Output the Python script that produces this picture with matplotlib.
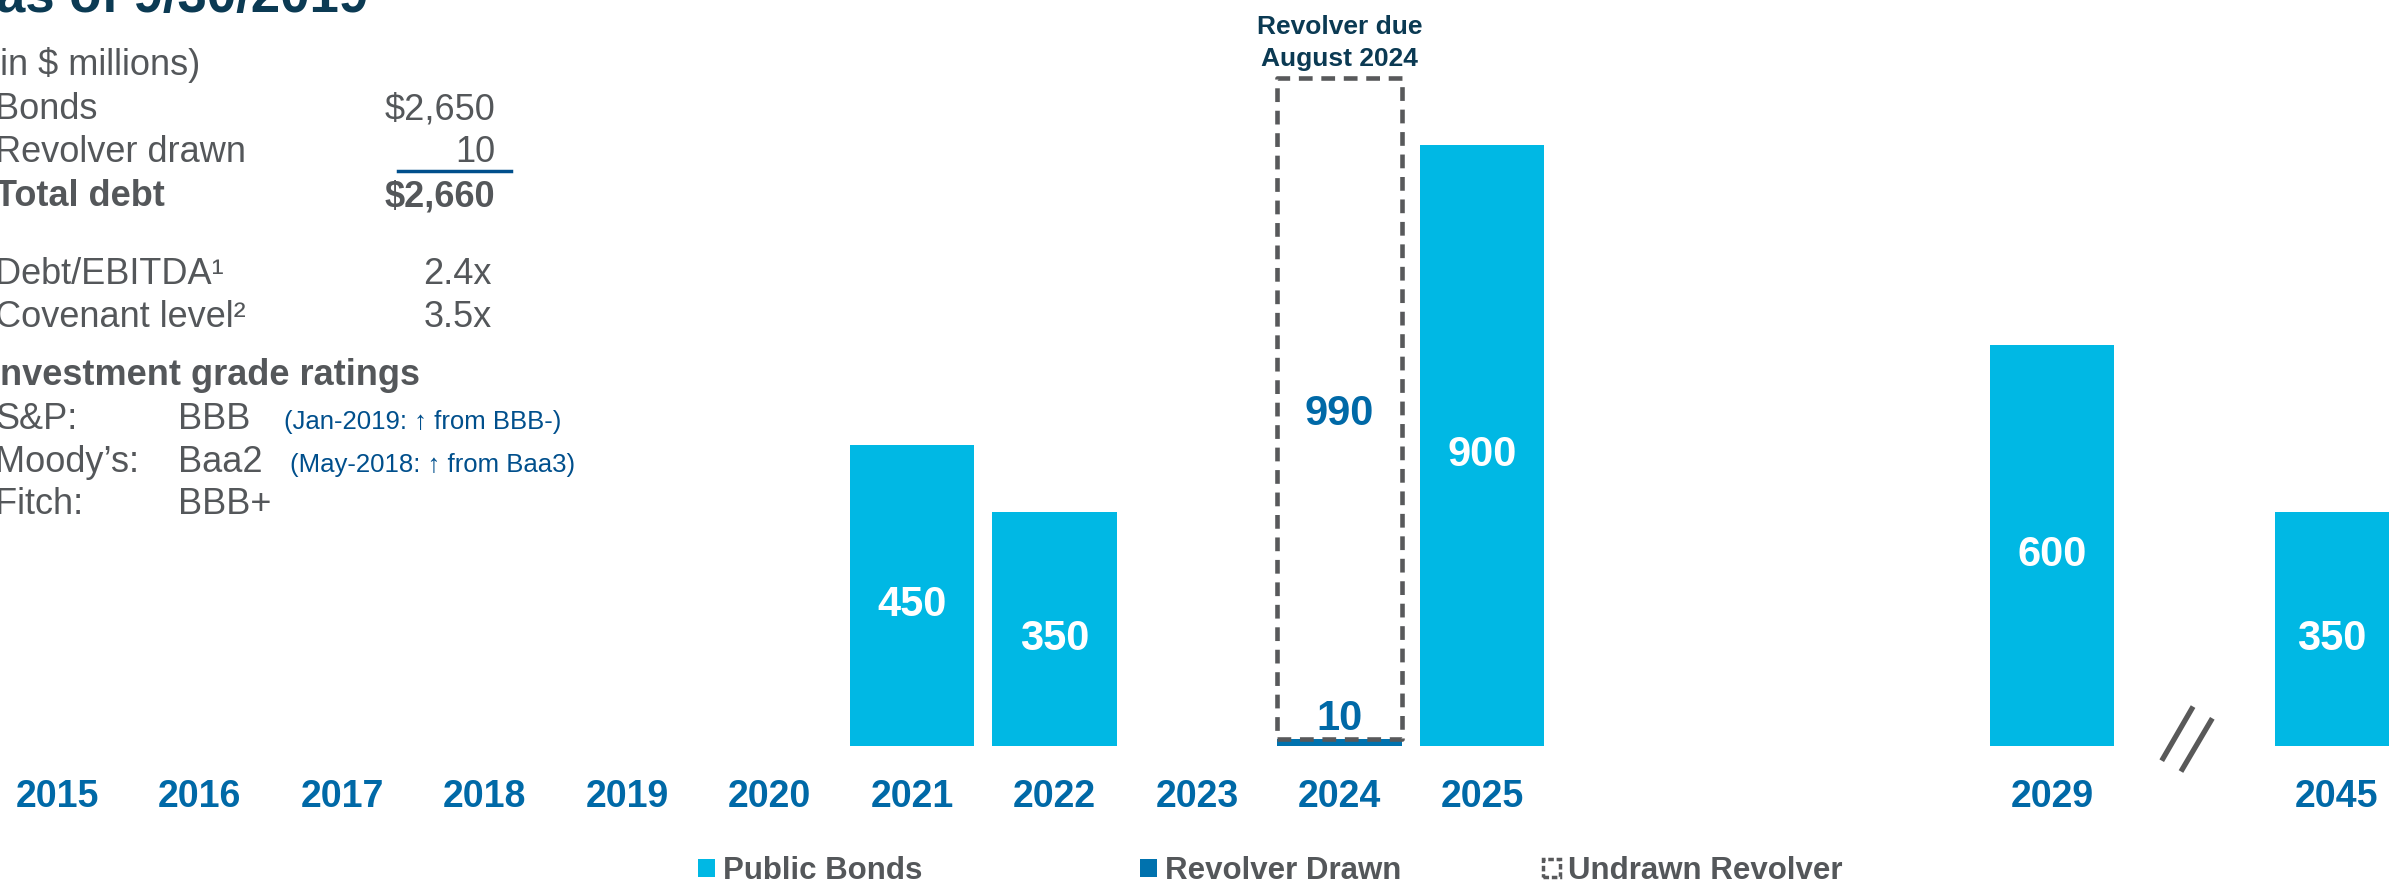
import matplotlib
matplotlib.use('Agg')
import matplotlib.pyplot as plt
from matplotlib.patches import Patch
import numpy as np

# ---------------- data ----------------
year_labels = ['2015', '2016', '2017', '2018', '2019', '2020', '2021', '2022', '2023',
               '2024', '2025', '', '', '', '2029', '', '2045']
public_bonds = [0, 0, 0, 0, 0, 0, 450, 350, 0, 0, 900, 0, 0, 0, 600, 0, 350]
revolver_drawn = [0, 0, 0, 0, 0, 0, 0, 0, 0, 10, 0, 0, 0, 0, 0, 0, 0]
undrawn_revolver = [0, 0, 0, 0, 0, 0, 0, 0, 0, 990, 0, 0, 0, 0, 0, 0, 0]
break_slot = 15
legend_labels = ['Public Bonds', 'Revolver Drawn', 'Undrawn Revolver']
revolver_note = ['Revolver due', 'August 2024']

title_text = 'as of 9/30/2019'
summary_rows = ['(in $ millions)', 'Bonds', 'Revolver drawn', 'Total debt']
summary_values = ['', '$2,650', '10', '$2,660']
ratio_rows = ['Debt/EBITDA\u00b9', 'Covenant level\u00b2']
ratio_values = ['2.4x', '3.5x']
ratings_header = 'Investment grade ratings'
agencies = ['S&P:', 'Moody\u2019s:', 'Fitch:']
ratings = ['BBB', 'Baa2', 'BBB+']
rating_notes = ['(Jan-2019: \u2191 from BBB-)', '(May-2018: \u2191 from Baa3)', '']

# ---------------- style ----------------
CYAN = '#00B8E4'
DRAWN = '#0072AE'
BLUE = '#0069A7'
GRAY = '#54575A'
NAVY = '#0B3A53'
NOTE = '#004F8C'
DASH = '#58595B'

plt.rcParams['font.family'] = ['Liberation Sans', 'DejaVu Sans']

W, H, DPI = 2389, 880, 100
fig = plt.figure(figsize=(W / DPI, H / DPI), dpi=DPI)


def fx(px):
    return px / W


def fy(py):
    return 1 - py / H


base_py = 746
px_per_unit = 0.668
slot_px = 142.5
x0_px = 57

ax = fig.add_axes([0, fy(base_py), 1, base_py / H])
ax.set_xlim(-x0_px / slot_px, (W - x0_px) / slot_px)
ax.set_ylim(0, base_py / px_per_unit)
for s in ax.spines.values():
    s.set_visible(False)
ax.set_yticks([])

x = np.arange(len(year_labels))
bw = 0.877

b1 = ax.bar(x, public_bonds, bw, color=CYAN, linewidth=0)
b2 = ax.bar(x, revolver_drawn, bw, color=DRAWN, linewidth=0)
b3 = ax.bar(x, undrawn_revolver, bw, bottom=revolver_drawn, fill=False,
            edgecolor=DASH, linewidth=3.3, linestyle=(0, (3.0, 1.9)))
for r, v in zip(b3, undrawn_revolver):
    r.set_joinstyle('round')
    if v == 0:
        r.set_visible(False)

ax.bar_label(b1, labels=[str(v) if v else '' for v in public_bonds],
             label_type='center', padding=-7, color='white', fontsize=30,
             fontweight='bold')
ax.bar_label(b3, labels=[str(v) if v else '' for v in undrawn_revolver],
             label_type='center', padding=-4, color=BLUE, fontsize=30,
             fontweight='bold')
ax.bar_label(b2, labels=[str(v) if v else '' for v in revolver_drawn],
             label_type='edge', padding=0, color=BLUE, fontsize=30,
             fontweight='bold')

ax.set_xticks(x, year_labels, fontweight='bold', va='baseline')
ax.tick_params(axis='x', length=0, pad=44, labelsize=27, labelcolor=BLUE)

# revolver maturity note above the dashed box
i_rev = int(np.argmax(undrawn_revolver))
rev_top = revolver_drawn[i_rev] + undrawn_revolver[i_rev]
ax.text(i_rev, rev_top + 66, revolver_note[0], ha='center', va='baseline',
        fontsize=19, fontweight='bold', color=NAVY)
ax.text(i_rev, rev_top + 18, revolver_note[1], ha='center', va='baseline',
        fontsize=19, fontweight='bold', color=NAVY)

# axis break marks
for dx in (0.0, 0.135):
    ax.plot([break_slot - 0.23 + dx, break_slot - 0.01 + dx], [-22 - dx * 120, 59 - dx * 130],
            color='#595959', linewidth=3.8, clip_on=False, solid_capstyle='butt')

# legends
leg_handles = [
    Patch(facecolor=CYAN, edgecolor='none'),
    Patch(facecolor=DRAWN, edgecolor='none'),
    Patch(facecolor='white', edgecolor=DASH, linewidth=2.5, linestyle=(0, (1.6, 0.8))),
]
leg_x = [698, 1140, 1543]
for h, lab, lx in zip(leg_handles, legend_labels, leg_x):
    fig.legend([h], [lab], loc='center left', bbox_to_anchor=(fx(lx), fy(871)),
               frameon=False, borderpad=0, borderaxespad=0, handlelength=0.55,
               handleheight=0.5, handletextpad=0.25,
               prop={'weight': 'bold', 'size': 22.5}, labelcolor=GRAY)

# left text block
fig.text(fx(-4), fy(12), title_text, fontsize=38, fontweight='bold', color=NAVY,
         va='baseline', ha='left')

lx = -5
sum_base = [75, 119, 162, 206]
for i, (lab, val, yb) in enumerate(zip(summary_rows, summary_values, sum_base)):
    bold = 'bold' if i == len(summary_rows) - 1 else 'normal'
    xoff = -12 if i == 0 else lx
    fig.text(fx(xoff), fy(yb), lab, fontsize=26, color=GRAY, va='baseline',
             ha='left', fontweight=bold)
    if val:
        fig.text(fx(495), fy(yb), val, fontsize=26, color=GRAY, va='baseline',
                 ha='right', fontweight=bold)
fig.add_artist(plt.Line2D([fx(398), fx(511)], [fy(171), fy(171)], color=NOTE,
                          linewidth=2.5))

for lab, val, yb in zip(ratio_rows, ratio_values, [284, 327]):
    fig.text(fx(lx), fy(yb), lab, fontsize=26, color=GRAY, va='baseline', ha='left')
    fig.text(fx(492), fy(yb), val, fontsize=26, color=GRAY, va='baseline', ha='right')

fig.text(fx(-10), fy(385), ratings_header, fontsize=26, fontweight='bold',
         color=GRAY, va='baseline', ha='left')
note_x = [284, 290, 0]
for ag, rt, nt, yb, nx in zip(agencies, ratings, rating_notes, [429, 472, 514], note_x):
    fig.text(fx(lx), fy(yb), ag, fontsize=26, color=GRAY, va='baseline', ha='left')
    fig.text(fx(178), fy(yb), rt, fontsize=26, color=GRAY, va='baseline', ha='left')
    if nt:
        fig.text(fx(nx), fy(yb), nt, fontsize=18.5, color=NOTE, va='baseline',
                 ha='left')

fig.savefig('out.png', dpi=DPI)
